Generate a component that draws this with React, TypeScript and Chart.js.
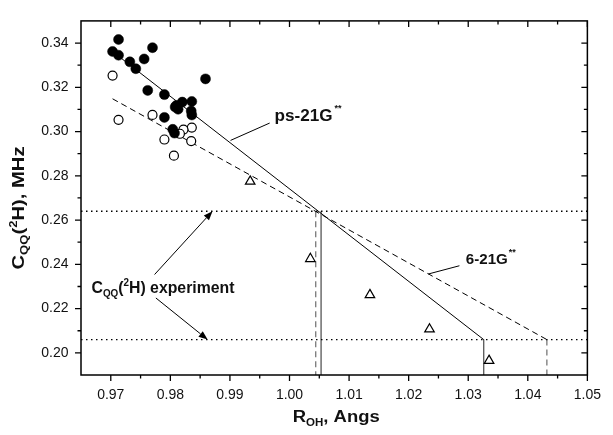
import React, { useEffect, useRef } from "react";
import { Chart, registerables } from "chart.js";

Chart.register(...registerables);

const FONT = '"Liberation Sans", Arial, Helvetica, sans-serif';

// axis ranges & ticks
const X_MIN = 0.965;
const X_MAX = 1.05;
const Y_MIN = 0.19;
const Y_MAX = 0.35;
const xMajorTicks = [0.97, 0.98, 0.99, 1.0, 1.01, 1.02, 1.03, 1.04, 1.05];
const xMinorTicks = [0.975, 0.985, 0.995, 1.005, 1.015, 1.025, 1.035, 1.045];
const yMajorTicks = [0.2, 0.22, 0.24, 0.26, 0.28, 0.3, 0.32, 0.34];
const yMinorTicks = [0.21, 0.23, 0.25, 0.27, 0.29, 0.31, 0.33];

// filled circles
const filledR = [0.9713, 0.9703, 0.9713, 0.977, 0.9732, 0.9756, 0.9742, 0.9859, 0.9762, 0.979, 0.9836, 0.982, 0.981, 0.9813, 0.9808, 0.9835, 0.9836, 0.979, 0.9804, 0.9807];
const filledC = [0.3416, 0.3362, 0.3345, 0.3379, 0.3315, 0.3328, 0.3284, 0.3238, 0.3186, 0.3167, 0.3136, 0.3133, 0.3118, 0.3101, 0.3111, 0.3093, 0.3075, 0.3064, 0.301, 0.2993];
// open circles
const openR = [0.9703, 0.9713, 0.977, 0.9836, 0.9822, 0.9816, 0.979, 0.9835, 0.9806];
const openC = [0.3253, 0.3053, 0.3075, 0.3018, 0.3009, 0.299, 0.2964, 0.2957, 0.2891];
// open triangles
const triR = [0.9934, 1.0035, 1.0135, 1.0235, 1.0335];
const triC = [0.2775, 0.2425, 0.2262, 0.2107, 0.1965];

// fitted lines
const psR = [0.97, 1.0326];
const psC = [0.3368, 0.206];
const g621R = [0.9703, 1.0432];
const g621C = [0.3148, 0.206];
// experimental levels and crossing points
const exptC = [0.264, 0.206];
const psCrossR = [1.0053, 1.0326];
const g621CrossR = [1.0044, 1.0432];

// annotation anchors (data units)
const psLabel = { x: 0.9975, y: 0.3049 };
const psPointer = [
  { x: 0.9901, y: 0.296 },
  { x: 0.99667, y: 0.30384 },
];
const g621Label = { x: 1.0296, y: 0.24025 };
const g621Pointer = [
  { x: 1.0233, y: 0.23563 },
  { x: 1.02852, y: 0.23936 },
];
const exptLabel = { x: 0.96676, y: 0.2272 };
const exptArrows = [
  [{ x: 0.97735, y: 0.2354 }, { x: 0.98707, y: 0.264 }],
  [{ x: 0.97757, y: 0.2248 }, { x: 0.98625, y: 0.206 }],
];

type Seg = { t: string; s: number; dy?: number };

function drawRich(
  ctx: CanvasRenderingContext2D,
  segs: Seg[],
  x: number,
  y: number,
  align: "left" | "center",
  targetW?: number
) {
  ctx.save();
  ctx.textBaseline = "alphabetic";
  ctx.textAlign = "left";
  ctx.fillStyle = "#111";
  let w = 0;
  const widths = segs.map((sg) => {
    ctx.font = `bold ${sg.s}px ${FONT}`;
    const m = ctx.measureText(sg.t).width;
    w += m;
    return m;
  });
  const sx = targetW ? targetW / w : 1;
  ctx.translate(x, y);
  ctx.scale(sx, 1);
  let cx = align === "center" ? -w / 2 : 0;
  segs.forEach((sg, i) => {
    ctx.font = `bold ${sg.s}px ${FONT}`;
    ctx.fillText(sg.t, cx, sg.dy || 0);
    cx += widths[i];
  });
  ctx.restore();
}

const decorPlugin = {
  id: "decor",
  afterDraw(chart: any) {
    const ctx: CanvasRenderingContext2D = chart.ctx;
    const xs = chart.scales.x;
    const ys = chart.scales.y;
    const { left, right, top, bottom } = chart.chartArea;
    const px = (v: number) => xs.getPixelForValue(v);
    const py = (v: number) => ys.getPixelForValue(v);

    ctx.save();
    // frame
    ctx.strokeStyle = "#000";
    ctx.lineWidth = 1.5;
    ctx.strokeRect(left, top, right - left, bottom - top);
    // ticks
    ctx.lineWidth = 1.3;
    const major = 6;
    const minor = 3.5;
    ctx.beginPath();
    xMajorTicks.forEach((v) => {
      const x = px(v);
      ctx.moveTo(x, bottom);
      ctx.lineTo(x, bottom + major);
      ctx.moveTo(x, top);
      ctx.lineTo(x, top + major);
    });
    xMinorTicks.forEach((v) => {
      const x = px(v);
      ctx.moveTo(x, bottom);
      ctx.lineTo(x, bottom + minor);
      ctx.moveTo(x, top);
      ctx.lineTo(x, top + minor);
    });
    yMajorTicks.forEach((v) => {
      const y = py(v);
      ctx.moveTo(left, y);
      ctx.lineTo(left - major, y);
      ctx.moveTo(right, y);
      ctx.lineTo(right - major, y);
    });
    yMinorTicks.forEach((v) => {
      const y = py(v);
      ctx.moveTo(left, y);
      ctx.lineTo(left - minor, y);
      ctx.moveTo(right, y);
      ctx.lineTo(right - minor, y);
    });
    ctx.stroke();

    // pointers
    ctx.lineWidth = 1;
    ctx.beginPath();
    [psPointer, g621Pointer].forEach((p) => {
      ctx.moveTo(px(p[0].x), py(p[0].y));
      ctx.lineTo(px(p[1].x), py(p[1].y));
    });
    ctx.stroke();

    // arrows
    exptArrows.forEach((a) => {
      const x0 = px(a[0].x), y0 = py(a[0].y);
      const x1 = px(a[1].x), y1 = py(a[1].y);
      const ang = Math.atan2(y1 - y0, x1 - x0);
      const L = 9, H = 3.5;
      const bx = x1 - L * Math.cos(ang), by = y1 - L * Math.sin(ang);
      ctx.beginPath();
      ctx.moveTo(x0, y0);
      ctx.lineTo(bx, by);
      ctx.stroke();
      ctx.beginPath();
      ctx.moveTo(x1, y1);
      ctx.lineTo(bx + H * Math.sin(ang), by - H * Math.cos(ang));
      ctx.lineTo(bx - H * Math.sin(ang), by + H * Math.cos(ang));
      ctx.closePath();
      ctx.fillStyle = "#000";
      ctx.fill();
    });

    // labels
    drawRich(ctx, [{ t: "ps-21G", s: 16 }], px(psLabel.x), py(psLabel.y), "left", 58);
    ctx.save();
    ctx.font = `bold 9px ${FONT}`;
    ctx.fillStyle = "#111";
    ctx.fillText("**", px(psLabel.x) + 60, py(psLabel.y) - 10);
    ctx.restore();
    drawRich(ctx, [{ t: "6-21G", s: 15 }], px(g621Label.x), py(g621Label.y), "left", 42);
    ctx.save();
    ctx.font = `bold 9px ${FONT}`;
    ctx.fillStyle = "#111";
    ctx.fillText("**", px(g621Label.x) + 43, py(g621Label.y) - 9);
    ctx.restore();
    drawRich(
      ctx,
      [
        { t: "C", s: 16 },
        { t: "QQ", s: 10, dy: 4 },
        { t: "(", s: 16 },
        { t: "2", s: 10, dy: -7 },
        { t: "H) experiment", s: 16 },
      ],
      px(exptLabel.x),
      py(exptLabel.y),
      "left",
      143
    );

    // axis titles
    drawRich(
      ctx,
      [
        { t: "R", s: 16 },
        { t: "OH", s: 10, dy: 4 },
        { t: ", Angs", s: 16 },
      ],
      (left + right) / 2 + 2,
      421.5,
      "center",
      87
    );
    ctx.save();
    ctx.translate(23.5, 208);
    ctx.rotate(-Math.PI / 2);
    drawRich(
      ctx,
      [
        { t: "C", s: 17 },
        { t: "QQ", s: 11, dy: 4 },
        { t: "(", s: 17 },
        { t: "2", s: 11, dy: -7 },
        { t: "H), MHz", s: 17 },
      ],
      0,
      0,
      "center",
      123
    );
    ctx.restore();
    ctx.restore();
  },
};

function lineDs(data: { x: number; y: number }[], color: string, dash: number[], width = 1) {
  return {
    type: "line" as const,
    data,
    showLine: true,
    borderColor: color,
    borderWidth: width,
    borderDash: dash,
    pointRadius: 0,
    fill: false,
    order: 5,
  };
}

export default function App() {
  const ref = useRef<HTMLCanvasElement>(null);
  useEffect(() => {
    if (!ref.current) return;
    const datasets: any[] = [
      {
        label: "filled",
        data: filledR.map((x, i) => ({ x, y: filledC[i] })),
        pointStyle: "circle",
        pointRadius: 5,
        pointBackgroundColor: "#000",
        pointBorderColor: "#000",
        pointBorderWidth: 0.5,
        showLine: false,
        order: 1,
      },
      {
        label: "open",
        data: openR.map((x, i) => ({ x, y: openC[i] })),
        pointStyle: "circle",
        pointRadius: 4.5,
        pointBackgroundColor: "#fff",
        pointBorderColor: "#000",
        pointBorderWidth: 1.2,
        showLine: false,
        order: 2,
      },
      {
        label: "tri",
        data: triR.map((x, i) => ({ x, y: triC[i] })),
        pointStyle: "triangle",
        pointRadius: 5.5,
        pointBackgroundColor: "#fff",
        pointBorderColor: "#000",
        pointBorderWidth: 1.2,
        showLine: false,
        order: 2,
      },
      lineDs(psR.map((x, i) => ({ x, y: psC[i] })), "#000", []),
      lineDs(g621R.map((x, i) => ({ x, y: g621C[i] })), "#000", [6, 4]),
      ...exptC.map((c) =>
        lineDs([{ x: X_MIN, y: c }, { x: X_MAX, y: c }], "#000", [1.5, 3.5], 1.3)
      ),
      ...psCrossR.map((r, i) =>
        lineDs([{ x: r, y: exptC[i] }, { x: r, y: Y_MIN }], "#555", [], 1.3)
      ),
      ...g621CrossR.map((r, i) =>
        lineDs([{ x: r, y: exptC[i] }, { x: r, y: Y_MIN }], "#777", [6, 4], 1.3)
      ),
    ];
    const chart = new Chart(ref.current, {
      type: "scatter",
      data: { datasets },
      options: {
        animation: false,
        responsive: false,
        layout: { padding: { top: 15, right: 16, left: 0, bottom: 0 } },
        plugins: { legend: { display: false }, tooltip: { enabled: false } },
        scales: {
          x: {
            type: "linear",
            min: X_MIN,
            max: X_MAX,
            afterBuildTicks: (s: any) => {
              s.ticks = xMajorTicks.map((v) => ({ value: v }));
            },
            afterFit: (s: any) => {
              s.height = 60;
            },
            grid: { display: false, drawTicks: false },
            border: { display: false },
            ticks: {
              padding: 12,
              color: "#111",
              font: { family: FONT, size: 14 },
              callback: (v: any) => Number(v).toFixed(2),
            },
          },
          y: {
            type: "linear",
            min: Y_MIN,
            max: Y_MAX,
            afterBuildTicks: (s: any) => {
              s.ticks = yMajorTicks.map((v) => ({ value: v }));
            },
            afterFit: (s: any) => {
              s.width = 81;
            },
            grid: { display: false, drawTicks: false },
            border: { display: false },
            ticks: {
              padding: 12.5,
              color: "#111",
              font: { family: FONT, size: 14 },
              callback: (v: any) => Number(v).toFixed(2),
            },
          },
        },
      },
      plugins: [decorPlugin],
    });
    return () => chart.destroy();
  }, []);
  return (
    <div style={{ position: "absolute", left: 0, top: 0, width: 613, height: 435, background: "#fff" }}>
      <canvas ref={ref} width={613} height={435} style={{ display: "block" }} />
    </div>
  );
}
